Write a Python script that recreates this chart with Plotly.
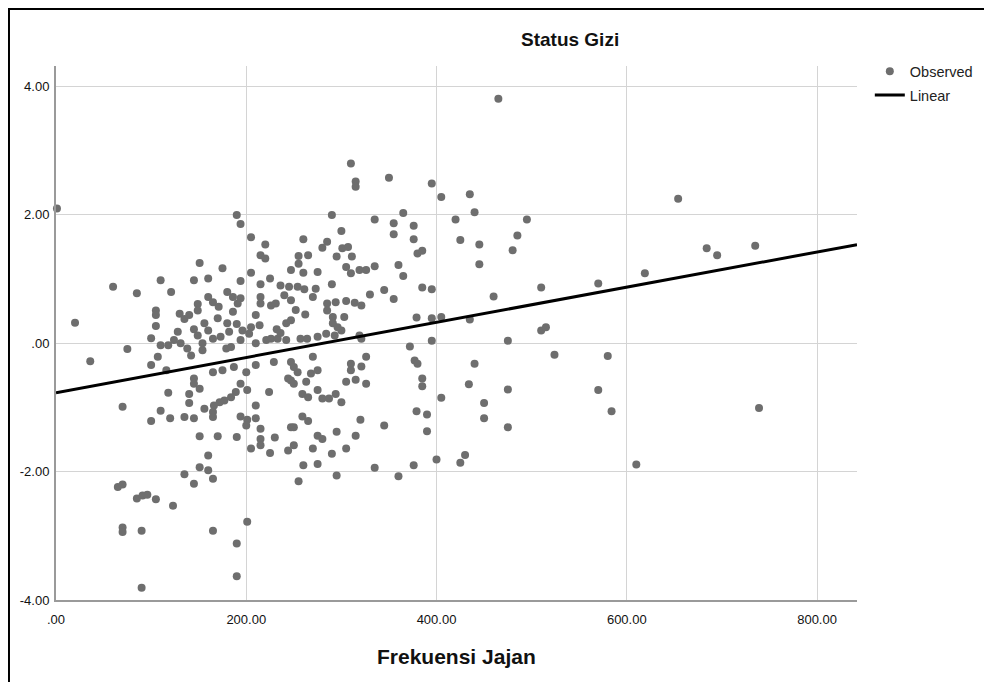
import plotly.graph_objects as go

frekuensi_jajan = [
    1, 60, 85, 110, 121, 105, 105, 20, 105,
    100, 110, 118, 75, 36, 107, 100, 116, 118, 70, 110, 120, 100, 65, 70, 85, 91, 96, 105, 123, 70, 70, 90, 90,
    190, 194, 205, 220, 215, 220, 151, 175, 145, 160, 205, 194, 225, 215, 236, 245, 240, 180, 186, 194, 191, 160,
    165, 171, 149, 149, 215, 215, 226, 231, 186, 130, 140, 156, 170, 180, 210, 214, 205, 242, 135, 190, 232,
    124, 131, 138, 142, 149, 154, 154, 165, 173, 179, 184, 194, 196, 203, 210, 221, 226, 233, 242, 229, 165, 175,
    187, 200, 210, 145, 145, 151, 140, 140, 194, 201, 224, 244, 189, 184, 177, 172, 166, 165, 165, 156, 135, 145,
    194, 201, 200, 210, 210, 215, 151, 170, 190, 215, 215, 205, 225, 230, 244, 247, 160, 151, 160, 165, 135, 145,
    201, 165, 190, 190, 128, 145, 160, 182, 236,
    310, 315, 315, 350, 290, 335, 365, 355, 355, 376, 376, 300, 260, 285, 280, 255, 265, 255, 301, 307, 295, 311,
    247, 260, 275, 305, 310, 319, 326, 335, 360, 365, 290, 254, 261, 273, 270, 247, 330, 345, 355, 285, 294, 305,
    314, 321, 285, 291, 303, 247, 291, 296, 252, 262,
    257, 264, 275, 284, 293, 300, 319, 321, 270, 247, 250, 254, 247, 250, 263, 268, 275, 310, 310, 321, 326, 305,
    315, 326, 259, 265, 275, 280, 287, 294, 300, 259, 265, 250, 320, 345, 275, 280, 295, 315, 250, 270, 290, 305,
    260, 275, 255, 295, 335, 360, 376,
    465, 395, 405, 435, 440, 420, 495, 425, 445, 485, 480, 445, 380, 385, 385, 395, 460, 379, 395, 405, 435,
    395, 475, 372, 377, 380, 440, 385, 385, 434, 475, 405, 450, 379, 390, 450, 475, 390, 400, 430, 425,
    654, 510, 570, 619, 684, 695, 735, 510, 515, 524, 580, 570, 584, 739, 610,
]
status_gizi = [
    2.10, 0.88, 0.78, 0.98, 0.80, 0.51, 0.44, 0.32, 0.27,
    0.08, -0.03, -0.03, -0.09, -0.28, -0.21, -0.34, -0.42, -0.77, -0.99, -1.05, -1.17, -1.21, -2.24, -2.20, -2.42,
    -2.37, -2.36, -2.43, -2.53, -2.87, -2.94, -2.92, -3.81,
    2.00, 1.86, 1.65, 1.54, 1.37, 1.32, 1.25, 1.17, 0.98, 1.01, 1.10, 0.97, 1.01, 0.92, 0.90, 0.88, 0.75, 0.80,
    0.72, 0.70, 0.62, 0.72, 0.64, 0.57, 0.61, 0.51, 0.72, 0.62, 0.59, 0.62, 0.49, 0.46, 0.44, 0.31, 0.39, 0.31,
    0.44, 0.28, 0.25, 0.31, 0.38, 0.30, 0.22,
    0.05, 0.00, -0.08, -0.19, 0.12, 0.00, -0.11, 0.07, 0.10, -0.08, -0.06, 0.05, 0.20, 0.15, 0.00, 0.05, 0.07,
    0.07, 0.05, -0.29, -0.45, -0.42, -0.37, -0.45, -0.34, -0.55, -0.63, -0.71, -0.79, -0.93, -0.63, -0.73, -0.76,
    -0.55, -0.76, -0.84, -0.89, -0.92, -0.97, -1.07, -1.15, -1.02, -1.15, -1.17, -1.14, -1.19, -1.28, -1.17, -0.97,
    -1.33, -1.45, -1.45, -1.46, -1.49, -1.59, -1.64, -1.71, -1.47, -1.67, -1.31, -1.75, -1.93, -1.98, -2.11, -2.04,
    -2.19, -2.78, -2.92, -3.12, -3.63, 0.18, 0.22, 0.20, 0.18, 0.16,
    2.80, 2.52, 2.44, 2.58, 2.00, 1.93, 2.03, 1.87, 1.70, 1.83, 1.62, 1.75, 1.62, 1.58, 1.49, 1.36, 1.37, 1.24,
    1.48, 1.50, 1.35, 1.35, 1.14, 1.10, 1.11, 1.19, 1.09, 1.14, 1.14, 1.20, 1.22, 1.05, 0.92, 0.88, 0.84, 0.85,
    0.72, 0.67, 0.76, 0.83, 0.69, 0.62, 0.64, 0.66, 0.63, 0.59, 0.51, 0.41, 0.41, 0.36, 0.31, 0.25, 0.52, 0.45,
    0.07, 0.07, 0.10, 0.15, 0.12, 0.20, 0.12, 0.07, -0.21, -0.29, -0.37, -0.45, -0.58, -0.63, -0.60, -0.47, -0.42,
    -0.32, -0.42, -0.36, -0.21, -0.60, -0.57, -0.63, -0.79, -0.84, -0.73, -0.86, -0.86, -0.79, -0.92, -1.14, -1.21,
    -1.31, -1.19, -1.28, -1.44, -1.49, -1.38, -1.44, -1.59, -1.64, -1.72, -1.64, -1.90, -1.88, -2.15, -2.06, -1.94,
    -2.07, -1.90,
    3.81, 2.49, 2.28, 2.32, 2.04, 1.93, 1.93, 1.61, 1.54, 1.68, 1.45, 1.23, 1.40, 1.44, 0.87, 0.84, 0.73, 0.40,
    0.39, 0.41, 0.37,
    0.04, 0.04, -0.05, -0.27, -0.32, -0.32, -0.55, -0.67, -0.64, -0.72, -0.85, -0.93, -1.06, -1.11, -1.17, -1.31,
    -1.37, -1.81, -1.74, -1.86,
    2.25, 0.87, 0.93, 1.09, 1.48, 1.37, 1.52, 0.20, 0.25, -0.18, -0.20, -0.73, -1.06, -1.01, -1.89,
]

# Linear fit coefficients (as shown by the fitted line)
fit_intercept = -0.77
fit_slope = 0.00274
x_range = [0, 842]
y_range = [-4.0, 4.32]

x_ticks = [0, 200, 400, 600, 800]
x_tick_labels = [".00", "200.00", "400.00", "600.00", "800.00"]
y_ticks = [-4, -2, 0, 2, 4]
y_tick_labels = ["-4.00", "-2.00", ".00", "2.00", "4.00"]

FONT = "Liberation Sans, Arial, sans-serif"

fig = go.Figure()
fig.add_trace(go.Scatter(
    x=frekuensi_jajan, y=status_gizi, mode="markers", name="Observed",
    legendgroup="a",
    marker=dict(size=8, color="#6e6e6e", line=dict(width=0)),
    cliponaxis=False,
))
fig.add_trace(go.Scatter(
    x=x_range, y=[fit_intercept + fit_slope * v for v in x_range],
    mode="lines", name="Linear", legendgroup="b",
    line=dict(color="black", width=3),
))

# the page body adds an 8px offset, so the figure is 8px smaller than the window
W, H = 984, 674
fig.update_layout(
    width=W, height=H,
    margin=dict(l=48, r=135, t=58, b=82),
    paper_bgcolor="white", plot_bgcolor="white",
    font=dict(family=FONT, color="#111111", size=13),
    showlegend=True,
    legend=dict(x=1.016, y=1.02, xanchor="left", yanchor="top",
                font=dict(family=FONT, size=14.5, color="#222222"),
                bgcolor="rgba(0,0,0,0)", tracegroupgap=2, itemwidth=30),
    xaxis=dict(range=x_range, tickvals=x_ticks, ticktext=x_tick_labels,
               showgrid=True, gridcolor="#d4d4d4", gridwidth=1,
               showline=True, linecolor="#9a9a9a", linewidth=2,
               zeroline=False, ticks="", ticklabelstandoff=6,
               tickfont=dict(size=13, family=FONT, color="#111111")),
    yaxis=dict(range=y_range, tickvals=y_ticks, ticktext=y_tick_labels,
               showgrid=True, gridcolor="#d4d4d4", gridwidth=1,
               showline=True, linecolor="#9a9a9a", linewidth=2,
               zeroline=False, ticks="", ticklabelstandoff=2,
               tickfont=dict(size=13, family=FONT, color="#111111")),
    annotations=[
        dict(text="<b>Status Gizi</b>", x=0.6417, y=1.0487, xref="paper", yref="paper",
             xanchor="center", yanchor="middle", showarrow=False,
             font=dict(size=19, family=FONT, color="#111111")),
        dict(text="<b>Frekuensi Jajan</b>", x=0.5, y=-0.1067, xref="paper", yref="paper",
             xanchor="center", yanchor="middle", showarrow=False,
             font=dict(size=21, family=FONT, color="#111111")),
    ],
    shapes=[
        dict(type="rect", xref="paper", yref="paper", x0=-0.0587, x1=1.3, y0=-0.3, y1=1.1067,
             line=dict(color="black", width=2), fillcolor="rgba(0,0,0,0)", layer="above"),
    ],
)

fig.write_html("out.html")
